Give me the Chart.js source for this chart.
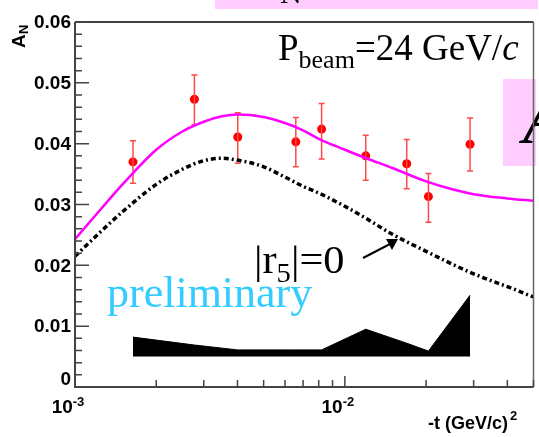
<!DOCTYPE html>
<html>
<head>
<meta charset="utf-8">
<script src="https://cdn.jsdelivr.net/npm/chart.js@4.4.1/dist/chart.umd.min.js"></script>
<style>
  body { margin: 0; background: #fff; }
  canvas { display: block; }
</style>
</head>
<body>
<canvas id="an" width="539" height="437"></canvas>
<script>
// measured points, -t in (GeV/c)^2
var tData = [0.00164, 0.00277, 0.00401, 0.00658, 0.0082, 0.01195, 0.01695, 0.0204, 0.0291];
var anData = [0.0370, 0.0473, 0.0411, 0.0403, 0.0424, 0.0380, 0.0367, 0.0313, 0.0399];
var anErrLow = [0.0335, 0.0431, 0.0368, 0.0362, 0.0375, 0.0340, 0.0326, 0.0271, 0.0355];
var anErrHigh = [0.0405, 0.0513, 0.0451, 0.0443, 0.0466, 0.0414, 0.0407, 0.0351, 0.0442];

// systematic band (filled down to sysBase)
var sysTop = [0.0082, 0.0069, 0.0061, 0.0061, 0.0061, 0.0095, 0.0072, 0.0059, 0.0151];
var sysBase = 0.005;

// theory curves
var tCurve = [0.001, 0.00125, 0.0015, 0.002, 0.0025, 0.003, 0.0035, 0.004, 0.005, 0.006,
              0.007, 0.008, 0.01, 0.012, 0.015, 0.02, 0.025, 0.03, 0.04, 0.05];
var anFit = [0.0243, 0.0293, 0.0333, 0.0390, 0.0420, 0.0436, 0.0445, 0.0448, 0.0444, 0.0434,
             0.0422, 0.0408, 0.0390, 0.0376, 0.0360, 0.0338, 0.0325, 0.0317, 0.0310, 0.0306];
var anR5Zero = [0.0215, 0.0256, 0.0288, 0.0333, 0.0358, 0.0372, 0.0376, 0.0373, 0.0362, 0.0345,
                0.0330, 0.0319, 0.0297, 0.0277, 0.0251, 0.0223, 0.0202, 0.0186, 0.0165, 0.0148];

// axes
var yMajor = [0, 0.01, 0.02, 0.03, 0.04, 0.05, 0.06];
var yTickLabels = ['0', '0.01', '0.02', '0.03', '0.04', '0.05', '0.06'];
var xMajor = [0.001, 0.01];
var xTickLabels = [['10', '-3'], ['10', '-2']];
var xMinor = [0.002, 0.003, 0.004, 0.005, 0.006, 0.007, 0.008, 0.009, 0.02, 0.03, 0.04, 0.05];

function pts(xs, ys) {
  return xs.map(function(x, i) { return {x: x, y: ys[i]}; });
}

var errPts = [];
tData.forEach(function(t, i) {
  errPts.push({x: t, y: anErrLow[i]}, {x: t, y: anErrHigh[i]}, {x: t, y: null});
});

var SANS = 'bold 19px "Liberation Sans", Arial, sans-serif';
var SMALL = 'bold 13px "Liberation Sans", Arial, sans-serif';
var SERIF = '"Liberation Serif", "Times New Roman", serif';

var decorations = {
  id: 'decorations',
  afterDraw: function(chart) {
    var ctx = chart.ctx, a = chart.chartArea;
    var xs = chart.scales.x, ys = chart.scales.y;
    ctx.save();

    // pink boxes from the slide behind
    ctx.fillStyle = '#ffccff';
    ctx.fillRect(215, 0, 323, 9);
    ctx.fillRect(503, 79, 33, 87);
    ctx.fillStyle = '#000';
    ctx.font = '30px ' + SERIF;
    ctx.textAlign = 'left';
    ctx.textBaseline = 'alphabetic';
    ctx.fillText('N', 280, 3);
    ctx.font = 'italic 74px ' + SERIF;
    ctx.fillText('A', 523, 143);

    // frame
    ctx.lineWidth = 1.5;
    ctx.strokeStyle = '#000';
    ctx.beginPath(); ctx.moveTo(a.left, a.top); ctx.lineTo(a.right, a.top); ctx.stroke();
    ctx.strokeStyle = '#666';
    ctx.beginPath(); ctx.moveTo(a.right, a.top); ctx.lineTo(a.right, a.bottom); ctx.stroke();
    ctx.lineWidth = 2;
    ctx.strokeStyle = '#444';
    ctx.beginPath();
    ctx.moveTo(a.left, a.top); ctx.lineTo(a.left, a.bottom); ctx.lineTo(a.right, a.bottom);
    ctx.stroke();

    // y ticks
    ctx.lineWidth = 1.5;
    ctx.beginPath();
    for (var v = 0; v <= 0.0601; v += 0.002) {
      var py = ys.getPixelForValue(v);
      var major = Math.abs(v / 0.01 - Math.round(v / 0.01)) < 1e-6;
      ctx.moveTo(a.left, py); ctx.lineTo(a.left + (major ? 14 : 7), py);
    }
    // x ticks
    xMajor.forEach(function(t) {
      var px = xs.getPixelForValue(t);
      ctx.moveTo(px, a.bottom); ctx.lineTo(px, a.bottom - 11);
    });
    xMinor.forEach(function(t) {
      var px = xs.getPixelForValue(t);
      ctx.moveTo(px, a.bottom); ctx.lineTo(px, a.bottom - 7);
    });
    ctx.stroke();

    // y labels
    ctx.fillStyle = '#000';
    ctx.font = SANS;
    ctx.textAlign = 'right';
    ctx.textBaseline = 'middle';
    yMajor.forEach(function(v, i) {
      var py = ys.getPixelForValue(v);
      if (v === 0) py -= 8;
      ctx.fillText(yTickLabels[i], 71, py + 1);
    });

    // x labels (10^n)
    ctx.textBaseline = 'alphabetic';
    ctx.textAlign = 'left';
    xMajor.forEach(function(t, i) {
      var px = xs.getPixelForValue(t);
      ctx.font = SANS;
      var w1 = ctx.measureText(xTickLabels[i][0]).width;
      ctx.font = SMALL;
      var w2 = ctx.measureText(xTickLabels[i][1]).width;
      var x0 = px - 7 - (w1 + w2) / 2;
      ctx.font = SANS;
      ctx.fillText(xTickLabels[i][0], x0, 413);
      ctx.font = SMALL;
      ctx.fillText(xTickLabels[i][1], x0 + w1, 406);
    });

    // axis titles
    ctx.font = 'bold 18px "Liberation Sans", Arial, sans-serif';
    ctx.fillText('-t (GeV/c)', 428, 429);
    ctx.font = SMALL;
    ctx.fillText('2', 510, 420);

    ctx.save();
    ctx.translate(25, 48);
    ctx.rotate(-Math.PI / 2);
    ctx.font = SANS;
    ctx.fillText('A', 0, 0);
    ctx.font = SMALL;
    ctx.fillText('N', 14, 3);
    ctx.restore();

    // P_beam label
    ctx.font = '37px ' + SERIF;
    ctx.fillText('P', 278, 60);
    var x = 278 + ctx.measureText('P').width;
    ctx.font = '26px ' + SERIF;
    ctx.fillText('beam', x, 68);
    x += ctx.measureText('beam').width;
    ctx.font = '37px ' + SERIF;
    ctx.fillText('=24 GeV/', x, 60);
    x += ctx.measureText('=24 GeV/').width;
    ctx.font = 'italic 37px ' + SERIF;
    ctx.fillText('c', x, 60);

    // |r5|=0 label
    ctx.save();
    ctx.translate(254, 273);
    ctx.scale(1.06, 1);
    ctx.font = '40px ' + SERIF;
    ctx.fillText('|r', 0, 0);
    x = ctx.measureText('|r').width;
    ctx.font = '27px ' + SERIF;
    ctx.fillText('5', x, 9);
    x += ctx.measureText('5').width;
    ctx.font = '40px ' + SERIF;
    ctx.fillText('|=0', x, 0);
    ctx.restore();

    // arrow
    ctx.strokeStyle = '#000';
    ctx.lineWidth = 2;
    ctx.beginPath(); ctx.moveTo(363, 258); ctx.lineTo(390, 244); ctx.stroke();
    ctx.beginPath();
    ctx.moveTo(398, 239); ctx.lineTo(386, 239); ctx.lineTo(392, 250); ctx.closePath();
    ctx.fillStyle = '#000';
    ctx.fill();

    // preliminary
    ctx.fillStyle = '#33ccff';
    ctx.font = '44px ' + SERIF;
    ctx.fillText('preliminary', 107, 307);

    ctx.restore();
  }
};

var chart = new Chart(document.getElementById('an'), {
  type: 'line',
  data: {
    datasets: [
      {
        data: pts(tData, sysTop),
        borderColor: '#000',
        backgroundColor: '#000',
        borderWidth: 1,
        pointRadius: 0,
        tension: 0,
        fill: {value: sysBase}
      },
      {
        data: pts(tCurve, anR5Zero),
        borderColor: '#000',
        borderWidth: 3.5,
        borderDash: [5, 3, 2, 3],
        pointRadius: 0,
        cubicInterpolationMode: 'monotone',
        fill: false
      },
      {
        data: pts(tCurve, anFit),
        borderColor: '#ff00ff',
        borderWidth: 2.5,
        pointRadius: 0,
        cubicInterpolationMode: 'monotone',
        fill: false
      },
      {
        data: errPts,
        borderColor: '#ff4848',
        borderWidth: 1.5,
        pointStyle: 'line',
        pointRadius: 3,
        pointBorderColor: '#ff4848',
        pointBorderWidth: 1.5,
        spanGaps: false,
        fill: false
      },
      {
        data: pts(tData, anData),
        showLine: false,
        pointRadius: 4.5,
        pointBackgroundColor: '#ff0000',
        pointBorderColor: '#ff0000',
        pointBorderWidth: 0,
        fill: false
      }
    ]
  },
  options: {
    responsive: false,
    animation: false,
    layout: { padding: { left: 75, top: 22, right: 3, bottom: 50 } },
    scales: {
      x: { type: 'logarithmic', min: 0.001, max: 0.05, display: false },
      y: { type: 'linear', min: 0, max: 0.06, display: false }
    },
    plugins: {
      legend: { display: false },
      tooltip: { enabled: false }
    }
  },
  plugins: [decorations]
});
</script>
</body>
</html>
